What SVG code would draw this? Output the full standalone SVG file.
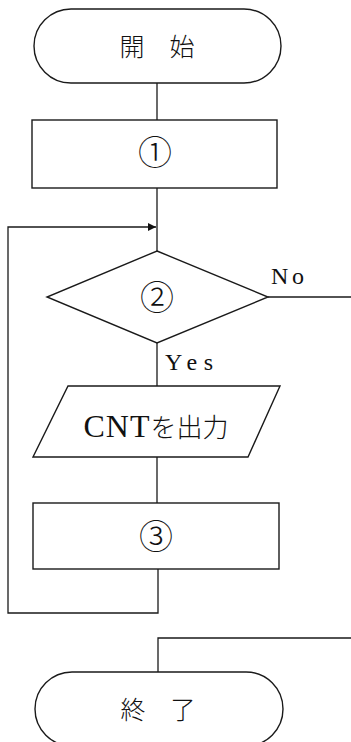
<svg xmlns="http://www.w3.org/2000/svg" width="351" height="742" viewBox="0 0 351 742">
  <style>
    .shape { fill: #fff; stroke: #1a1a1a; stroke-width: 1.4; }
    .wire { fill: none; stroke: #1a1a1a; stroke-width: 1.3; }
    .jp { font-family: "Noto Sans CJK JP", sans-serif; font-size: 25px; font-weight: 300; fill: #111; text-anchor: middle; }
    .num { font-family: "Noto Sans CJK JP", sans-serif; font-size: 34px; font-weight: 300; fill: #111; text-anchor: middle; }
    .lbl { font-family: "Liberation Serif", serif; font-size: 24px; fill: #111; }
  </style>
  <defs>
    <marker id="arrow" viewBox="0 0 10 10" refX="10" refY="5" markerWidth="17" markerHeight="8" markerUnits="userSpaceOnUse" orient="auto">
      <path d="M0,0 L10,5 L0,10 Z" fill="#111"/>
    </marker>
  </defs>
  <rect width="351" height="742" fill="#fff"/>

  <g id="connectors">
    <line class="wire" x1="157" y1="83" x2="157" y2="120"/>
    <line class="wire" x1="157" y1="188" x2="157" y2="251"/>
    <polyline class="wire" points="158,569 158,613 8,613 8,227 156,227" marker-end="url(#arrow)"/>
    <line class="wire" x1="268" y1="297" x2="351" y2="297"/>
    <line class="wire" x1="157" y1="343" x2="157" y2="386"/>
    <line class="wire" x1="157" y1="457" x2="157" y2="503"/>
    <polyline class="wire" points="351,638 158,638 158,672"/>
    <text class="lbl" x="271" y="284" textLength="33" lengthAdjust="spacing">No</text>
    <text class="lbl" x="165" y="370" textLength="48" lengthAdjust="spacing">Yes</text>
  </g>

  <g id="start">
    <rect class="shape" x="34" y="9" width="247" height="74" rx="37" ry="37"/>
    <text class="jp" x="157" y="56">開　始</text>
  </g>

  <g id="step1">
    <rect class="shape" x="32" y="120" width="245" height="68"/>
    <text class="num" x="155" y="165">①</text>
  </g>

  <g id="decision2">
    <polygon class="shape" points="157,251 268,297 157,343 47,297"/>
    <text class="num" x="157" y="310">②</text>
  </g>

  <g id="output">
    <polygon class="shape" points="68,386 280,386 248,457 33,457"/>
    <text x="156" y="437" text-anchor="middle" fill="#111"><tspan font-family="Liberation Serif, serif" font-size="32" letter-spacing="1">CNT</tspan><tspan font-family="Noto Sans CJK JP, sans-serif" font-size="26" font-weight="300">を出力</tspan></text>
  </g>

  <g id="step3">
    <rect class="shape" x="33" y="503" width="246" height="66"/>
    <text class="num" x="156" y="549">③</text>
  </g>

  <g id="end">
    <rect class="shape" x="35" y="672" width="248" height="74" rx="37" ry="37"/>
    <text class="jp" x="158" y="719">終　了</text>
  </g>
</svg>
